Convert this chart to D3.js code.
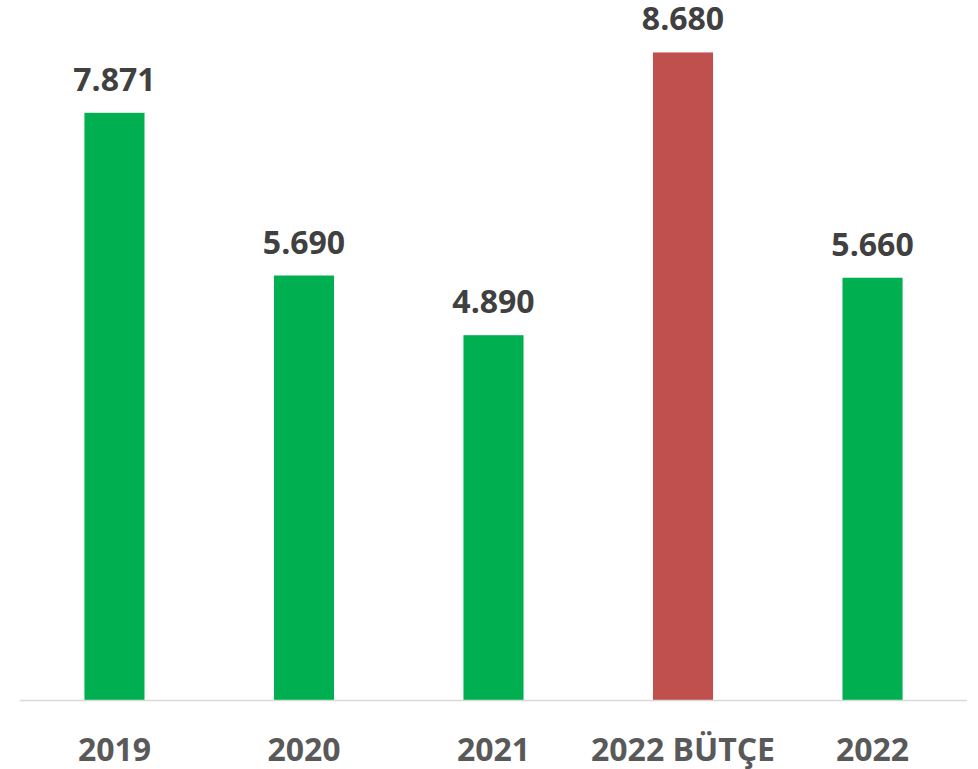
<!DOCTYPE html>
<html>
<head>
<meta charset="utf-8">
<script src="https://cdn.jsdelivr.net/npm/d3@7"></script>
<style>
  body { margin: 0; background: #fff; }
  text { font-family: "Open Sans", sans-serif; font-weight: bold; }
</style>
</head>
<body>
<script>
var width = 978;
var height = 769;

// data
var categories = ["2019", "2020", "2021", "2022 BÜTÇE", "2022"];
var values = [7871, 5690, 4890, 8680, 5660];
var valueLabels = ["7.871", "5.690", "4.890", "8.680", "5.660"];
var barColors = ["#00b050", "#00b050", "#00b050", "#c0504d", "#00b050"];

var svg = d3.select("body")
    .append("svg")
    .attr("width", width)
    .attr("height", height);

var x = d3.scaleBand()
    .domain(categories)
    .range([20, 967])
    .paddingInner(0.683)
    .paddingOuter(0.34);

var y = d3.scaleLinear()
    .domain([0, 9383])
    .range([700, 0]);

// bars
svg.selectAll("rect.bar")
    .data(values)
    .enter().append("rect")
    .attr("class", "bar")
    .attr("x", function(d, i) { return x(categories[i]); })
    .attr("y", function(d) { return y(d); })
    .attr("width", x.bandwidth())
    .attr("height", function(d) { return y(0) - y(d); })
    .attr("fill", function(d, i) { return barColors[i]; });

// baseline
svg.append("line")
    .attr("x1", 20)
    .attr("x2", 967)
    .attr("y1", y(0) + 0.5)
    .attr("y2", y(0) + 0.5)
    .attr("stroke", "#d9d9d9")
    .attr("stroke-width", 1.5);

// value labels
svg.selectAll("text.val")
    .data(values)
    .enter().append("text")
    .attr("class", "val")
    .attr("x", function(d, i) { return x(categories[i]) + x.bandwidth() / 2; })
    .attr("y", function(d) { return y(d) - 22; })
    .attr("text-anchor", "middle")
    .attr("font-size", 32)
    .attr("fill", "#404040")
    .text(function(d, i) { return valueLabels[i]; });

// category labels
svg.selectAll("text.cat")
    .data(categories)
    .enter().append("text")
    .attr("class", "cat")
    .attr("x", function(d) { return x(d) + x.bandwidth() / 2; })
    .attr("y", 761)
    .attr("text-anchor", "middle")
    .attr("font-size", 32)
    .attr("fill", "#595959")
    .text(function(d) { return d; });
</script>
</body>
</html>
